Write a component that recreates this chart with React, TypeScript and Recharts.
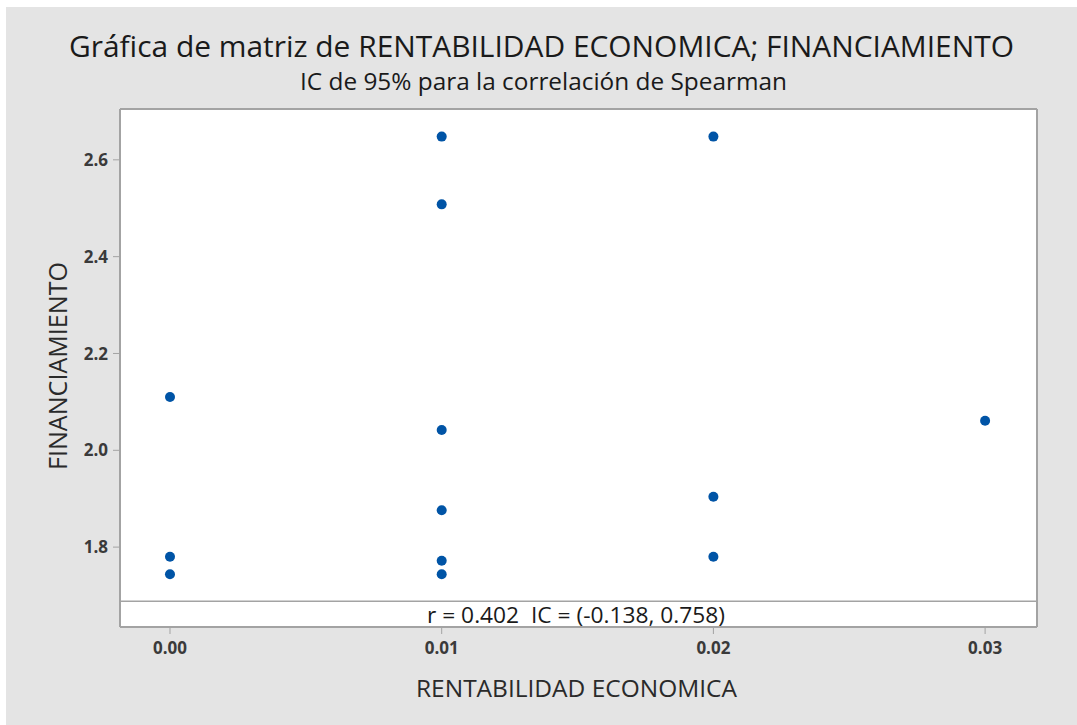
import React from "react";
import {
  ScatterChart,
  Scatter,
  XAxis,
  YAxis,
  CartesianGrid,
  ReferenceLine,
} from "recharts";

const xValues = [0, 0, 0, 0.01, 0.01, 0.01, 0.01, 0.01, 0.01, 0.02, 0.02, 0.02, 0.03];
const yValues = [2.11, 1.78, 1.744, 2.648, 2.508, 2.042, 1.876, 1.772, 1.744, 2.648, 1.904, 1.78, 2.061];
const xTicks = [0, 0.01, 0.02, 0.03];
const yTicks = [1.8, 2.0, 2.2, 2.4, 2.6];
const xDomain = [-0.00184, 0.03191];
const yDomain = [1.635, 2.705];
const annotationBoundary = 1.688;

const titleText = "Gráfica de matriz de RENTABILIDAD ECONOMICA; FINANCIAMIENTO";
const subtitleText = "IC de 95% para la correlación de Spearman";
const annotationText = "r = 0.402\u00a0\u00a0IC = (-0.138, 0.758)";
const xLabel = "RENTABILIDAD ECONOMICA";
const yLabel = "FINANCIAMIENTO";

const data = xValues.map((x, i) => ({ x, y: yValues[i] }));

const FONT = "'Open Sans', 'DejaVu Sans', sans-serif";
const FRAME = "#a3a3a3";
const DOT = "#0054a6";

export default function App() {
  return (
    <div style={{ position: "absolute", left: 0, top: 0, width: 1077, height: 725, background: "#ffffff", overflow: "hidden" }}>
      <div style={{ position: "absolute", left: 6, top: 7, right: 0, bottom: 0, background: "#e4e4e4" }} />
      <div style={{ position: "absolute", left: 0, top: 0 }}>
        <ScatterChart width={1077} height={725} margin={{ top: 109, right: 40, bottom: 58, left: 0 }}>
          <CartesianGrid horizontal={false} vertical={false} fill="#ffffff" stroke="none" />
          <XAxis
            type="number"
            dataKey="x"
            domain={xDomain}
            ticks={xTicks}
            allowDataOverflow
            tickFormatter={(v: number) => v.toFixed(2)}
            tickSize={7}
            tickMargin={8}
            height={40}
            axisLine={{ stroke: FRAME, strokeWidth: 2 }}
            tickLine={{ stroke: FRAME, strokeWidth: 1 }}
            tick={{ fill: "#3a3a3a", fontSize: 17, fontFamily: FONT, fontWeight: 700 }}
          />
          <YAxis
            type="number"
            dataKey="y"
            domain={yDomain}
            ticks={yTicks}
            allowDataOverflow
            tickFormatter={(v: number) => v.toFixed(1)}
            tickSize={7}
            tickMargin={5}
            width={120}
            axisLine={{ stroke: FRAME, strokeWidth: 2 }}
            tickLine={{ stroke: FRAME, strokeWidth: 1 }}
            tick={{ fill: "#3a3a3a", fontSize: 17, fontFamily: FONT, fontWeight: 700 }}
          />
          <ReferenceLine y={yDomain[1]} stroke={FRAME} strokeWidth={2} />
          <ReferenceLine x={xDomain[1]} stroke={FRAME} strokeWidth={2} />
          <ReferenceLine y={annotationBoundary} stroke={FRAME} strokeWidth={1.5} />
          <Scatter
            data={data}
            isAnimationActive={false}
            fill={DOT}
            shape={(p: any) => <circle cx={p.cx} cy={p.cy} r={5} fill={DOT} />}
          />
        </ScatterChart>
      </div>
      <svg
        width={1077}
        height={725}
        style={{ position: "absolute", left: 0, top: 0, pointerEvents: "none" }}
      >
        <text x={541.5} y={57} textAnchor="middle" fontFamily={FONT} fontSize={30} fill="#1a1a1a" textLength={945} lengthAdjust="spacingAndGlyphs">
          {titleText}
        </text>
        <text x={543.5} y={90} textAnchor="middle" fontFamily={FONT} fontSize={23} fill="#1a1a1a" textLength={487} lengthAdjust="spacingAndGlyphs">
          {subtitleText}
        </text>
        <text x={576} y={623} textAnchor="middle" fontFamily={FONT} fontSize={22} fill="#1a1a1a" textLength={298} lengthAdjust="spacingAndGlyphs">
          {annotationText}
        </text>
        <text x={576.5} y={697} textAnchor="middle" fontFamily={FONT} fontSize={23} fill="#2a2a2a" textLength={321} lengthAdjust="spacingAndGlyphs">
          {xLabel}
        </text>
        <text
          x={0}
          y={0}
          transform="translate(67,366) rotate(-90)"
          textAnchor="middle"
          fontFamily={FONT}
          fontSize={26}
          fill="#2a2a2a"
          textLength={208}
          lengthAdjust="spacingAndGlyphs"
        >
          {yLabel}
        </text>
      </svg>
    </div>
  );
}
